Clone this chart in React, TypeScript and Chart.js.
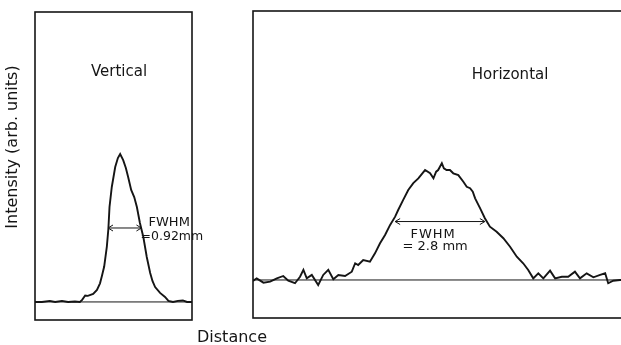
import React, { useEffect, useRef } from "react";
import { Chart, registerables } from "chart.js";

Chart.register(...registerables);

// Vertical profile: distance (mm) and intensity (arb. units, peak = 100)
const V_DIST = [0, 0.18, 0.39, 0.53, 0.71, 0.87, 1.05, 1.18, 1.24, 1.32, 1.39, 1.53, 1.63, 1.71, 1.76, 1.82, 1.89, 1.93, 1.96, 2.02, 2.11, 2.18, 2.24, 2.32, 2.39, 2.45, 2.53, 2.61, 2.68, 2.76, 2.85, 2.94, 3.03, 3.09, 3.16, 3.29, 3.42, 3.51, 3.63, 3.76, 3.89, 4.0, 4.13];
const V_INT = [0, 0, 0.7, 0, 0.7, 0, 0.3, 0, 1.4, 4.4, 4.1, 5.4, 8.1, 12.6, 17.6, 23.9, 37.4, 49.3, 64.2, 77.7, 91.2, 97.3, 100, 95.9, 90.5, 84.5, 75.7, 70.9, 64.2, 53.4, 43.9, 30.4, 19.6, 14.2, 10.1, 6.1, 3.4, 0.7, 0, 0.7, 1.0, 0, 0];

// Horizontal profile
const H_DIST = [0, 0.11, 0.31, 0.51, 0.71, 0.90, 1.05, 1.25, 1.40, 1.50, 1.60, 1.75, 1.94, 2.09, 2.24, 2.39, 2.54, 2.74, 2.94, 3.04, 3.13, 3.28, 3.48, 3.63, 3.78, 3.93, 4.08, 4.23, 4.32, 4.47, 4.62, 4.77, 4.92, 5.12, 5.27, 5.37, 5.45, 5.51, 5.62, 5.68, 5.76, 5.86, 5.96, 6.11, 6.26, 6.36, 6.46, 6.54, 6.61, 6.76, 6.90, 7.05, 7.25, 7.45, 7.65, 7.85, 8.04, 8.19, 8.34, 8.49, 8.64, 8.84, 8.99, 9.19, 9.38, 9.58, 9.73, 9.93, 10.13, 10.33, 10.48, 10.57, 10.72, 10.92, 11.07];
const H_INT = [-0.7, 1.1, -1.8, -1.1, 1.1, 2.7, -0.5, -2.2, 2.2, 6.8, 1.1, 3.4, -3.4, 3.4, 6.8, 0.5, 3.4, 2.7, 5.6, 11.3, 10.1, 13.5, 12.4, 18.0, 24.8, 30.4, 37.2, 42.8, 47.3, 54.1, 60.8, 65.5, 68.7, 74.3, 72.1, 68.7, 73.2, 74.3, 78.9, 75.5, 74.3, 74.3, 72.1, 70.9, 66.4, 63.0, 62.0, 59.7, 55.2, 48.4, 41.7, 36.0, 32.6, 28.2, 22.5, 15.7, 11.3, 6.8, 1.1, 4.5, 1.1, 6.3, 1.1, 2.2, 2.2, 5.6, 1.1, 4.5, 1.8, 3.4, 4.5, -2.2, -0.5, 0, 0];

// FWHM markers: [start, end, level]
const V_FWHM = [1.92, 2.8, 50];
const H_FWHM = [4.23, 6.9, 39.5];

const V_RANGE = { xMin: 0, xMax: 4.13, yMin: -12.2, yMax: 196 };
const H_RANGE = { xMin: 0, xMax: 11.07, yMin: -25.7, yMax: 181.8 };

const INK = "#151515";
const FONT = "'DejaVu Sans', sans-serif";

type Label = { text: string; x: number; y: number; size: number; spacing?: number };

function arrow(ctx: CanvasRenderingContext2D, x1: number, x2: number, y: number) {
  ctx.save();
  ctx.strokeStyle = INK;
  ctx.lineWidth = 1;
  ctx.beginPath();
  ctx.moveTo(x1, y);
  ctx.lineTo(x2, y);
  ctx.moveTo(x1 + 5, y - 3);
  ctx.lineTo(x1, y);
  ctx.lineTo(x1 + 5, y + 3);
  ctx.moveTo(x2 - 5, y - 3);
  ctx.lineTo(x2, y);
  ctx.lineTo(x2 - 5, y + 3);
  ctx.stroke();
  ctx.restore();
}

function makePlugin(fwhm: number[], labels: Label[], extra?: (ctx: CanvasRenderingContext2D) => void) {
  return {
    id: "decor",
    afterDraw(chart: any) {
      const ctx = chart.ctx as CanvasRenderingContext2D;
      const a = chart.chartArea;
      const xs = chart.scales.x;
      const ys = chart.scales.y;
      ctx.save();
      ctx.strokeStyle = INK;
      ctx.lineWidth = 1.6;
      ctx.strokeRect(a.left, a.top, a.right - a.left, a.bottom - a.top);
      arrow(ctx, xs.getPixelForValue(fwhm[0]), xs.getPixelForValue(fwhm[1]), ys.getPixelForValue(fwhm[2]));
      ctx.fillStyle = INK;
      ctx.textAlign = "center";
      ctx.textBaseline = "middle";
      for (const l of labels) {
        ctx.font = `${l.size}px ${FONT}`;
        (ctx as any).letterSpacing = `${l.spacing ?? 0}px`;
        ctx.fillText(l.text, xs.getPixelForValue(l.x), ys.getPixelForValue(l.y));
      }
      (ctx as any).letterSpacing = "0px";
      if (extra) extra(ctx);
      ctx.restore();
    },
  };
}

function buildChart(
  canvas: HTMLCanvasElement,
  dist: number[],
  inten: number[],
  range: { xMin: number; xMax: number; yMin: number; yMax: number },
  padding: { left: number; right: number; top: number; bottom: number },
  plugin: any
) {
  return new Chart(canvas, {
    type: "line",
    data: {
      datasets: [
        {
          data: [
            { x: range.xMin, y: 0 },
            { x: range.xMax, y: 0 },
          ],
          borderColor: INK,
          borderWidth: 1,
          pointRadius: 0,
        },
        {
          data: dist.map((d, i) => ({ x: d, y: inten[i] })),
          borderColor: INK,
          borderWidth: 1.9,
          pointRadius: 0,
          tension: 0,
        },
      ],
    },
    options: {
      responsive: false,
      animation: false,
      events: [],
      layout: { padding },
      plugins: { legend: { display: false }, tooltip: { enabled: false } },
      scales: {
        x: { type: "linear", min: range.xMin, max: range.xMax, display: false },
        y: { type: "linear", min: range.yMin, max: range.yMax, display: false },
      },
    },
    plugins: [plugin],
  } as any);
}

export default function App() {
  const leftRef = useRef<HTMLCanvasElement>(null);
  const rightRef = useRef<HTMLCanvasElement>(null);

  useEffect(() => {
    const leftPlugin = makePlugin(
      V_FWHM,
      [
        { text: "Vertical", x: 2.21, y: 155.4, size: 15 },
        { text: "FWHM", x: 3.53, y: 53.4, size: 13 },
        { text: "=0.92mm", x: 3.6, y: 43.9, size: 12.5 },
      ],
      (ctx) => {
        ctx.font = `16px ${FONT}`;
        ctx.fillStyle = INK;
        ctx.textAlign = "center";
        ctx.textBaseline = "middle";
        ctx.fillText("Distance", 232, 338);
        ctx.save();
        ctx.translate(13, 147);
        ctx.rotate(-Math.PI / 2);
        ctx.fillText("Intensity (arb. units)", 0, 0);
        ctx.restore();
      }
    );
    const rightPlugin = makePlugin(H_FWHM, [
      { text: "Horizontal", x: 7.65, y: 138.5, size: 15 },
      { text: "FWHM", x: 5.36, y: 30.4, size: 13, spacing: 1 },
      { text: "= 2.8 mm", x: 5.42, y: 22.3, size: 13 },
    ]);
    const c1 = buildChart(leftRef.current!, V_DIST, V_INT, V_RANGE, { left: 35, right: 429, top: 12, bottom: 25 }, leftPlugin);
    const c2 = buildChart(rightRef.current!, H_DIST, H_INT, H_RANGE, { left: 253, right: 5, top: 11, bottom: 27 }, rightPlugin);
    return () => {
      c1.destroy();
      c2.destroy();
    };
  }, []);

  return (
    <div style={{ position: "absolute", left: 0, top: 0, width: 621, height: 345, overflow: "hidden", background: "#fff" }}>
      <canvas ref={rightRef} width={630} height={345} style={{ position: "absolute", left: 0, top: 0, width: 630, height: 345 }} />
      <canvas ref={leftRef} width={621} height={345} style={{ position: "absolute", left: 0, top: 0, width: 621, height: 345 }} />
    </div>
  );
}
